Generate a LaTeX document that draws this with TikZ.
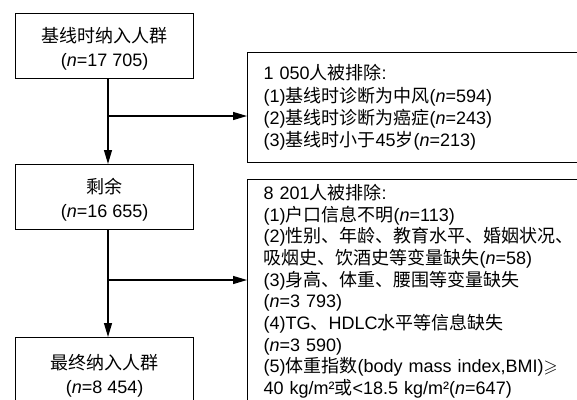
\documentclass[tikz,border=0pt]{standalone}
\usepackage{amssymb}
\usepackage{fontspec}
\setmainfont{Liberation Sans}
\newfontfamily\zh{Noto Sans CJK SC}
\usetikzlibrary{arrows.meta}
\newcommand\lift{\rule{0pt}{19.5pt}}
\begin{document}
\begin{tikzpicture}[x=1pt,y=-1pt,
  box/.style={draw, line width=1.3pt, inner sep=0pt},
  lbox/.style={box, anchor=north west, minimum width=178pt, minimum height=65pt, align=center, font=\fontsize{18}{24}\selectfont},
  rbox/.style={box, anchor=north west, align=left, text width=330pt, inner xsep=16pt, font=\fontsize{18}{22.3}\selectfont},
  arr/.style={line width=1.2pt, -{Triangle[length=14pt,width=8pt]}}]
\useasboundingbox (0,0) rectangle (577,399);
\clip (0,0) rectangle (577,399);

\node[lbox] (b1) at (15,13) {\lift{\zh 基线时纳入人群}\\(\textit{n}=17 705)};
\node[lbox] (b3) at (15,164) {\lift{\zh 剩余}\\(\textit{n}=16 655)};
\node[lbox, minimum height=72pt] (b4) at (15,337) {\lift{\zh 最终纳入人群}\\(\textit{n}=8 454)};

\node[rbox, minimum height=110pt] (b2) at (247,52) {1 050{\zh 人被排除}:\\
(1){\zh 基线时诊断为中风}(\textit{n}=594)\\
(2){\zh 基线时诊断为癌症}(\textit{n}=243)\\
(3){\zh 基线时小于}45{\zh 岁}(\textit{n}=213)};

\node[rbox, inner ysep=4.4pt, font=\fontsize{18}{21.7}\selectfont] (b5) at (247,179) {8 201{\zh 人被排除}:\\
(1){\zh 户口信息不明}(\textit{n}=113)\\
(2){\zh 性别、年龄、教育水平、婚姻状况、}\\
{\zh 吸烟史、饮酒史等变量缺失}(\textit{n}=58)\\
(3){\zh 身高、体重、腰围等变量缺失}\\
(\textit{n}=3 793)\\
(4)TG{\zh 、}HDLC{\zh 水平等信息缺失}\\
(\textit{n}=3 590)\\
(5){\zh 体重指数}(body mass index,BMI)$\geqslant$\\
40 kg/m²{\zh 或}<18.5 kg/m²(\textit{n}=647)};

\coordinate (c1) at (108,116);
\coordinate (c2) at (108,280);
\draw[arr] (b1.south -| c1) -- (b3.north -| c1);
\draw[arr] (c1) -- (c1 -| b2.west);
\draw[arr] (b3.south -| c2) -- (b4.north -| c2);
\draw[arr] (c2) -- (c2 -| b5.west);
\end{tikzpicture}
\end{document}
